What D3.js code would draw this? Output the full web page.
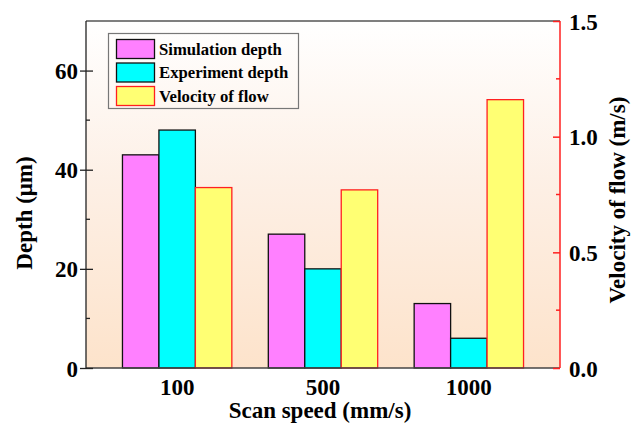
<!DOCTYPE html>
<html>
<head>
<meta charset="utf-8">
<script src="https://cdn.jsdelivr.net/npm/d3@7"></script>
<style>
  html, body { margin: 0; padding: 0; background: #fff; }
  svg { display: block; }
  text { font-family: "Liberation Serif", "Times New Roman", serif; font-weight: bold; fill: #000; }
</style>
</head>
<body>
<svg id="chart" width="632" height="427"></svg>
<script>
// Scan speeds (mm/s) on the x axis
const categories = ["100", "500", "1000"];
// Melt-pool depth (μm), left axis
const simulationDepth = [43, 27, 13];
const experimentDepth = [48, 20, 6];
// Velocity of flow (m/s), right axis
const flowVelocity = [0.78, 0.77, 1.16];
// Axis ticks
const depthTicks = [0, 20, 40, 60];
const depthMinorTicks = [10, 30, 50];
const velocityTicks = [0, 0.5, 1.0, 1.5];
const velocityMinorTicks = [0.25, 0.75, 1.25];
const seriesNames = ["Simulation depth", "Experiment depth", "Velocity of flow"];

const svg = d3.select("#chart");
const plotLeft = 86, plotRight = 560, plotTop = 21, plotBottom = 368;

// Plot background: white at the top fading to peach at the bottom
const defs = svg.append("defs");
const grad = defs.append("linearGradient").attr("id", "bg")
  .attr("x1", 0).attr("y1", 0).attr("x2", 0).attr("y2", 1);
grad.append("stop").attr("offset", "0%").attr("stop-color", "#ffffff");
grad.append("stop").attr("offset", "45%").attr("stop-color", "#fdf0e6");
grad.append("stop").attr("offset", "100%").attr("stop-color", "#fde3cb");
svg.append("rect").attr("x", plotLeft).attr("y", plotTop)
  .attr("width", plotRight - plotLeft).attr("height", plotBottom - plotTop)
  .attr("fill", "url(#bg)");

const x0 = d3.scaleBand().domain(categories).range([plotLeft, plotRight]).paddingInner(0.25).paddingOuter(0.25);
const x1 = d3.scaleBand().domain(seriesNames).range([0, x0.bandwidth()]);
const yDepth = d3.scaleLinear().domain([0, 70]).range([plotBottom, plotTop]);
const yVel = d3.scaleLinear().domain([0, 1.5]).range([plotBottom, plotTop]);

const fills = ["#ff80ff", "#00ffff", "#ffff73"];
const strokes = ["#111", "#111", "#ff2020"];

// Bars
const bars = [
  { name: seriesNames[0], values: simulationDepth, y: yDepth },
  { name: seriesNames[1], values: experimentDepth, y: yDepth },
  { name: seriesNames[2], values: flowVelocity, y: yVel }
];
bars.forEach((s, si) => {
  svg.append("g").selectAll("rect").data(s.values).join("rect")
    .attr("x", (d, i) => x0(categories[i]) + x1(s.name))
    .attr("y", d => s.y(d))
    .attr("width", x1.bandwidth())
    .attr("height", d => plotBottom - s.y(d))
    .attr("fill", fills[si])
    .attr("stroke", strokes[si])
    .attr("stroke-width", 1.3);
});

// Frame top line
svg.append("line").attr("x1", plotLeft).attr("x2", plotRight).attr("y1", plotTop).attr("y2", plotTop)
  .attr("stroke", "#555").attr("stroke-width", 1.3);

// Bottom axis (labels only)
const xAxis = svg.append("g").attr("transform", `translate(0,${plotBottom})`)
  .call(d3.axisBottom(x0).tickSize(0).tickPadding(0));
xAxis.select(".domain").remove();
svg.append("line").attr("x1", plotLeft).attr("x2", plotRight).attr("y1", plotBottom).attr("y2", plotBottom)
  .attr("stroke", "#444").attr("stroke-width", 1.6);
xAxis.selectAll("text").attr("font-size", 23).attr("dy", null).attr("y", 27);

// Left axis
const yl = svg.append("g").attr("transform", `translate(${plotLeft},0)`)
  .call(d3.axisLeft(yDepth).tickValues(depthTicks).tickSize(6).tickPadding(2).tickFormat(d3.format("d")));
yl.select(".domain").attr("d", `M0,${plotTop}V${plotBottom}`).attr("stroke", "#222").attr("stroke-width", 1.3);
yl.selectAll(".tick line").attr("x1", 7).attr("x2", -6).attr("stroke", "#222").attr("stroke-width", 1.3);
yl.selectAll("text").attr("font-size", 23).attr("dy", "0.35em");
yl.append("g").selectAll("line").data(depthMinorTicks).join("line")
  .attr("x1", 0).attr("x2", 4).attr("y1", d => yDepth(d)).attr("y2", d => yDepth(d))
  .attr("stroke", "#222").attr("stroke-width", 1.3);

// Right axis (red, ticks pointing inward)
const yr = svg.append("g").attr("transform", `translate(${plotRight},0)`)
  .call(d3.axisRight(yVel).tickValues(velocityTicks).tickSize(0).tickPadding(9).tickFormat(d3.format(".1f")));
yr.select(".domain").attr("d", `M0,${plotTop}V${plotBottom}`).attr("stroke", "#ff2020").attr("stroke-width", 1.5);
yr.selectAll(".tick").append("line").attr("x1", 0).attr("x2", -7)
  .attr("stroke", "#ff2020").attr("stroke-width", 1.5);
yr.selectAll("text").attr("font-size", 23).attr("dy", "0.35em");
yr.append("g").selectAll("line").data(velocityMinorTicks).join("line")
  .attr("x1", 0).attr("x2", -4).attr("y1", d => yVel(d)).attr("y2", d => yVel(d))
  .attr("stroke", "#ff2020").attr("stroke-width", 1.5);

// Axis titles
svg.append("text").attr("x", 320).attr("y", 418).attr("text-anchor", "middle")
  .attr("font-size", 23).text("Scan speed (mm/s)");
svg.append("text").attr("transform", "translate(31.5,213) rotate(-90)")
  .attr("text-anchor", "middle").attr("font-size", 23).text("Depth (μm)");
svg.append("text").attr("transform", "translate(625,200) rotate(-90)")
  .attr("text-anchor", "middle").attr("font-size", 23).text("Velocity of flow (m/s)");

// Legend
const legend = svg.append("g");
legend.append("rect").attr("x", 108.5).attr("y", 33.5).attr("width", 190).attr("height", 75)
  .attr("fill", "none").attr("stroke", "#777").attr("stroke-width", 1.2);
seriesNames.forEach((name, i) => {
  const yy = 39.5 + i * 23.5;
  legend.append("rect").attr("x", 116.5).attr("y", yy).attr("width", 38).attr("height", 19)
    .attr("fill", fills[i]).attr("stroke", strokes[i]).attr("stroke-width", 1.3);
  legend.append("text").attr("x", 159).attr("y", yy + 15).attr("font-size", 16.7).text(name);
});
</script>
</body>
</html>
